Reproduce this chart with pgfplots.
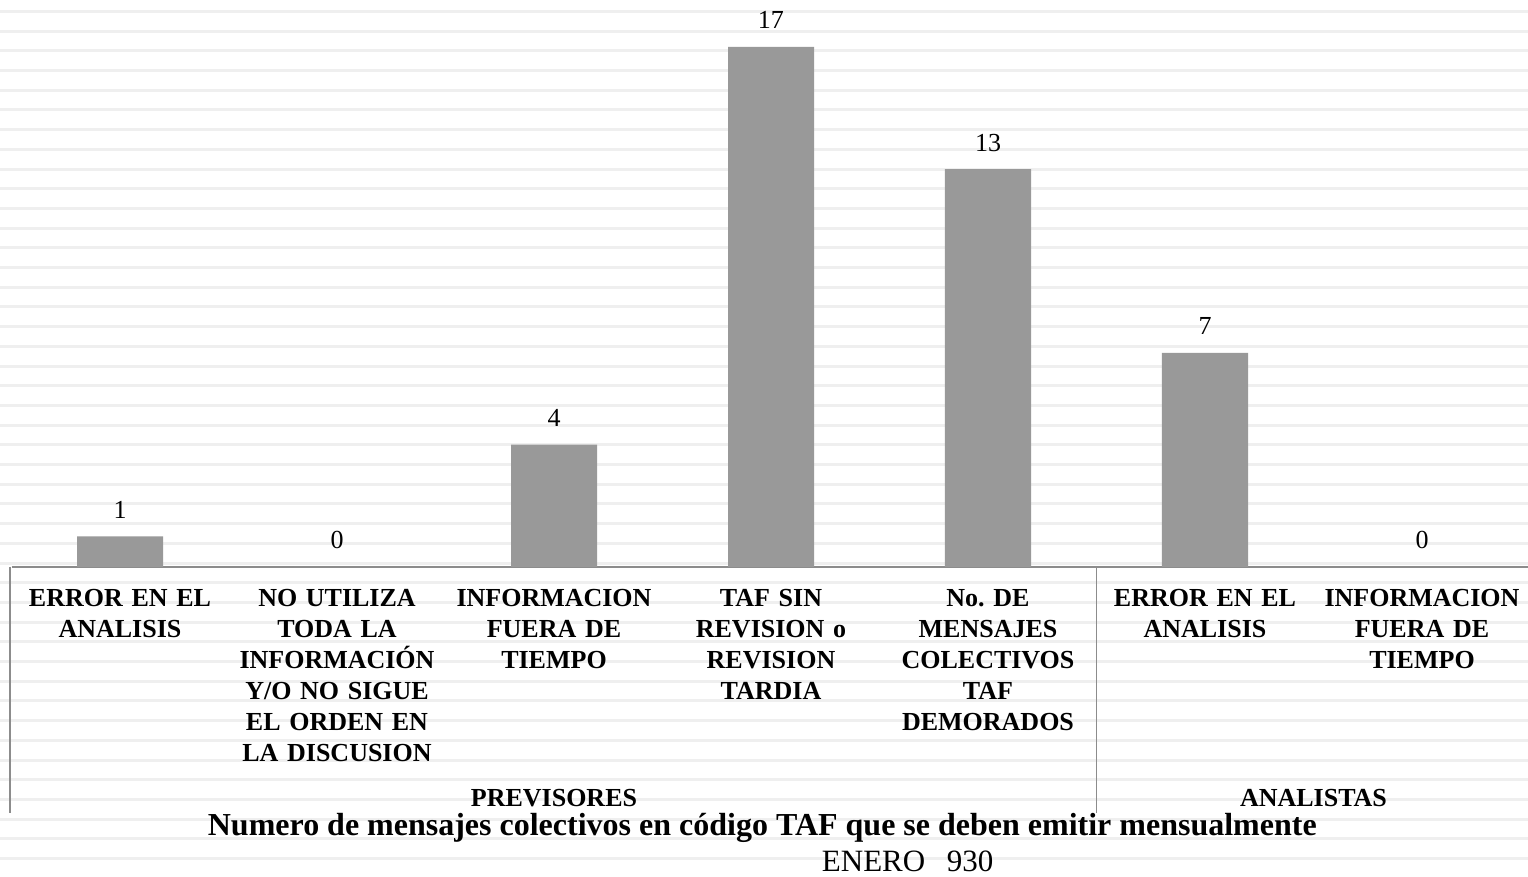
\documentclass[border=0pt]{standalone}
\usepackage{pgfplots}
\pgfplotsset{compat=1.18}
\usepackage{fontspec}
\setmainfont{Liberation Serif}
\definecolor{stripe}{HTML}{EFEFEF}
\definecolor{barc}{HTML}{999999}
\definecolor{axc}{HTML}{8C8C8C}
\begin{document}
\begin{tikzpicture}
\fill[white] (0pt,0pt) rectangle (764pt,438.5pt);
\foreach \i in {0,...,44} {
  \fill[stripe] (0pt,{(877-10-19.7*\i)*0.5pt}) rectangle (764pt,{(877-13-19.7*\i)*0.5pt});
}
\begin{axis}[
  at={(5.75pt,155pt)}, anchor=south west,
  scale only axis, width=759.5pt, height=283.8pt,
  xmin=-0.5, xmax=6.5, ymin=0, ymax=18.55,
  axis y line=none,
  axis x line=bottom,
  x axis line style={-, draw=axc, line width=0.75pt},
  xtick={0,...,6},
  major tick length=0pt,
  xticklabels={{ERROR EN EL\\ANALISIS},{NO UTILIZA\\TODA LA\\INFORMACIÓN\\Y/O NO SIGUE\\EL ORDEN EN\\LA DISCUSION},{INFORMACION\\FUERA DE\\TIEMPO},{TAF SIN\\REVISION o\\REVISION\\TARDIA},{No.\ DE\\MENSAJES\\COLECTIVOS\\TAF\\DEMORADOS},{ERROR EN EL\\ANALISIS},{INFORMACION\\FUERA DE\\TIEMPO}},
  xticklabel style={font=\bfseries\fontsize{13}{15.5}\selectfont, text width=110pt, align=center, anchor=north, inner sep=0pt, yshift=-10.9pt},
  ytick=\empty,
  ybar, bar width=43pt,
  nodes near coords,
  /pgf/number format/assume math mode=true,
  every node near coord/.append style={font=\fontsize{13}{15}\selectfont, anchor=base, inner sep=0pt, yshift=9pt, text=black},
  clip=false,
]
\addplot[fill=barc, draw=none] coordinates {(0,1) (1,0) (2,4) (3,17) (4,13) (5,7) (6,0)};
\draw[axc, line width=0.75pt] ([xshift=-0.75pt]axis cs:-0.5,0) -- ++(0pt,-123pt);
\draw[axc, line width=0.75pt] (axis cs:4.5,0) -- ++(0pt,-123pt);
\node[anchor=base, inner sep=0pt, font=\bfseries\fontsize{13}{15.5}\selectfont] at ([yshift=-120pt]axis cs:2,0) {PREVISORES};
\node[anchor=base, inner sep=0pt, font=\bfseries\fontsize{13}{15.5}\selectfont] at ([yshift=-120pt]axis cs:5.5,0) {ANALISTAS};
\node[anchor=base, inner sep=0pt, font=\bfseries\fontsize{16}{19}\selectfont] at ([yshift=-134.5pt]axis cs:2.96,0) {Numero de mensajes colectivos en código TAF que se deben emitir mensualmente};
\node[anchor=base, inner sep=0pt, font=\fontsize{15.5}{18}\selectfont] at ([yshift=-152.5pt]axis cs:3.63,0) {ENERO\hspace{0.7em}930};
\end{axis}
\pgfresetboundingbox
\path[use as bounding box] (0pt,0pt) rectangle (764pt,438.5pt);
\end{tikzpicture}
\end{document}
